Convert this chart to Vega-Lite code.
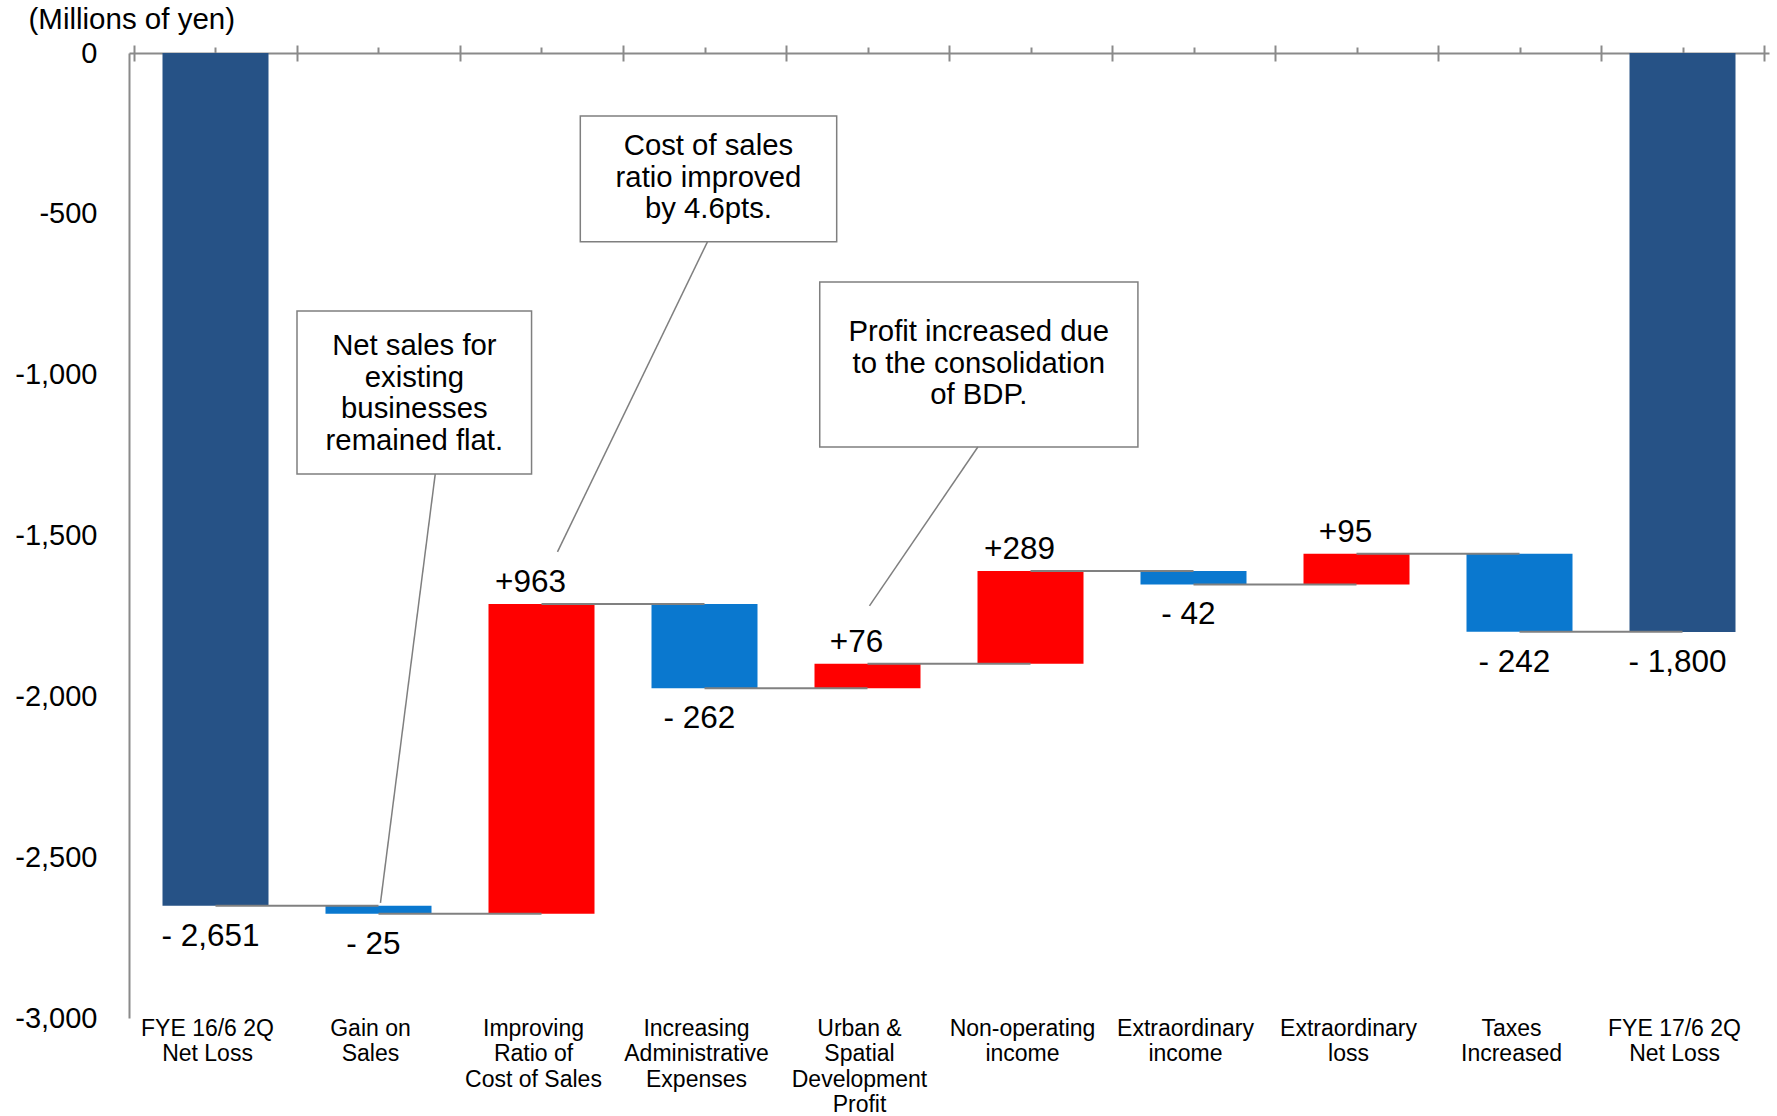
{
  "$schema": "https://vega.github.io/schema/vega-lite/v6.json",
  "width": 1640,
  "height": 965,
  "autosize": {"type": "none"},
  "padding": {"left": 129, "top": 53, "right": 8, "bottom": 98},
  "background": "white",
  "config": {
    "view": {"stroke": null},
    "font": "Liberation Sans",
    "text": {"font": "Liberation Sans", "color": "#000000"},
    "axis": {"labelFont": "Liberation Sans", "titleFont": "Liberation Sans"}
  },
  "datasets": {
    "steps": [
      {"pos": 0, "step": "FYE 16/6 2Q\nNet Loss", "start": 0, "end": -2651, "kind": "total", "label": "- 2,651"},
      {"pos": 1, "step": "Gain on\nSales", "start": -2651, "end": -2676, "kind": "decrease", "label": "- 25"},
      {"pos": 2, "step": "Improving\nRatio of\nCost of Sales", "start": -2676, "end": -1713, "kind": "increase", "label": "+963"},
      {"pos": 3, "step": "Increasing\nAdministrative\nExpenses", "start": -1713, "end": -1975, "kind": "decrease", "label": "- 262"},
      {"pos": 4, "step": "Urban &\nSpatial\nDevelopment\nProfit", "start": -1975, "end": -1899, "kind": "increase", "label": "+76"},
      {"pos": 5, "step": "Non-operating\nincome", "start": -1899, "end": -1610, "kind": "increase", "label": "+289"},
      {"pos": 6, "step": "Extraordinary\nincome", "start": -1610, "end": -1652, "kind": "decrease", "label": "- 42"},
      {"pos": 7, "step": "Extraordinary\nloss", "start": -1652, "end": -1557, "kind": "increase", "label": "+95"},
      {"pos": 8, "step": "Taxes\nIncreased", "start": -1557, "end": -1799, "kind": "decrease", "label": "- 242"},
      {"pos": 9, "step": "FYE 17/6 2Q\nNet Loss", "start": 0, "end": -1800, "kind": "total", "label": "- 1,800"}
    ],
    "links": [
      {"from": 0, "to": 1, "level": -2651},
      {"from": 1, "to": 2, "level": -2676},
      {"from": 2, "to": 3, "level": -1713},
      {"from": 3, "to": 4, "level": -1975},
      {"from": 4, "to": 5, "level": -1899},
      {"from": 5, "to": 6, "level": -1610},
      {"from": 6, "to": 7, "level": -1652},
      {"from": 7, "to": 8, "level": -1557},
      {"from": 8, "to": 9, "level": -1799}
    ],
    "notes": [
      {"note": "Net sales for\nexisting\nbusinesses\nremained flat.", "box_x1": 0.5, "box_x2": 1.939, "box_y1": -802, "box_y2": -1309, "text_x": 1.22, "text_y": -939, "lead_x1": 1.348, "lead_y1": -1309, "lead_x2": 1.012, "lead_y2": -2642},
      {"note": "Cost of sales\nratio improved\nby 4.6pts.", "box_x1": 2.238, "box_x2": 3.811, "box_y1": -196, "box_y2": -587, "text_x": 3.024, "text_y": -318, "lead_x1": 3.018, "lead_y1": -587, "lead_x2": 2.098, "lead_y2": -1551},
      {"note": "Profit increased due\nto the consolidation\nof BDP.", "box_x1": 3.707, "box_x2": 5.659, "box_y1": -712, "box_y2": -1225, "text_x": 4.683, "text_y": -896, "lead_x1": 4.677, "lead_y1": -1225, "lead_x2": 4.012, "lead_y2": -1719}
    ]
  },
  "layer": [
    {
      "data": {"name": "steps"},
      "mark": {"type": "bar", "size": 106, "orient": "vertical"},
      "encoding": {
        "x": {
          "field": "pos", "type": "quantitative",
          "scale": {"domain": [-0.5, 9.5], "nice": false, "zero": false},
          "axis": {
            "orient": "top", "values": [0, 1, 2, 3, 4, 5, 6, 7, 8, 9],
            "labels": false, "grid": false, "title": null,
            "domain": true, "domainColor": "#8a8a8a", "domainWidth": 2,
            "ticks": true, "tickColor": "#8a8a8a", "tickWidth": 2, "tickSize": 6
          }
        },
        "y": {
          "field": "start", "type": "quantitative",
          "scale": {"domain": [-3000, 0], "nice": false, "zero": false},
          "axis": {
            "orient": "left",
            "values": [0, -500, -1000, -1500, -2000, -2500, -3000],
            "labelExpr": "(datum.value < 0 ? '-' : '') + format(abs(datum.value), ',')",
            "grid": false, "ticks": false,
            "domain": true, "domainColor": "#8a8a8a", "domainWidth": 2,
            "labelFontSize": 29, "labelColor": "#000000", "labelPadding": 32,
            "title": "(Millions of yen)",
            "titleAngle": 0, "titleAlign": "left", "titleBaseline": "middle",
            "titleX": -101, "titleY": -34,
            "titleFontSize": 29.5, "titleFontWeight": "normal", "titleColor": "#000000"
          }
        },
        "y2": {"field": "end"},
        "color": {
          "field": "kind", "type": "nominal",
          "scale": {"domain": ["total", "decrease", "increase"], "range": ["#265286", "#0a78cf", "#ff0000"]},
          "legend": null
        }
      }
    },
    {
      "data": {"name": "links"},
      "mark": {"type": "rule", "stroke": "#808080", "strokeWidth": 2},
      "encoding": {
        "x": {
          "field": "from", "type": "quantitative",
          "scale": {"domain": [-0.5, 9.5], "nice": false, "zero": false},
          "axis": {
            "orient": "top", "offset": -8,
            "values": [-0.5, 0.5, 1.5, 2.5, 3.5, 4.5, 5.5, 6.5, 7.5, 8.5, 9.5],
            "labels": false, "grid": false, "title": null, "domain": false,
            "ticks": true, "tickColor": "#8a8a8a", "tickWidth": 2, "tickSize": 16
          }
        },
        "x2": {"field": "to"},
        "y": {"field": "level", "type": "quantitative", "scale": {"domain": [-3000, 0], "nice": false, "zero": false}, "axis": null}
      }
    },
    {
      "data": {"name": "notes"},
      "mark": {"type": "rect", "fill": "white", "stroke": "#7f7f7f", "strokeWidth": 1.5},
      "encoding": {
        "x": {"field": "box_x1", "type": "quantitative", "scale": {"domain": [-0.5, 9.5], "nice": false, "zero": false}, "axis": null},
        "x2": {"field": "box_x2"},
        "y": {"field": "box_y1", "type": "quantitative", "scale": {"domain": [-3000, 0], "nice": false, "zero": false}, "axis": null},
        "y2": {"field": "box_y2"}
      }
    },
    {
      "data": {"name": "notes"},
      "mark": {"type": "rule", "stroke": "#7f7f7f", "strokeWidth": 1.5},
      "encoding": {
        "x": {"field": "lead_x1", "type": "quantitative", "scale": {"domain": [-0.5, 9.5], "nice": false, "zero": false}, "axis": null},
        "x2": {"field": "lead_x2"},
        "y": {"field": "lead_y1", "type": "quantitative", "scale": {"domain": [-3000, 0], "nice": false, "zero": false}, "axis": null},
        "y2": {"field": "lead_y2"}
      }
    },
    {
      "data": {"name": "notes"},
      "mark": {"type": "text", "fontSize": 29.3, "lineBreak": "\n", "lineHeight": 31.5, "align": "center", "baseline": "alphabetic"},
      "encoding": {
        "x": {"field": "text_x", "type": "quantitative", "scale": {"domain": [-0.5, 9.5], "nice": false, "zero": false}, "axis": null},
        "y": {"field": "text_y", "type": "quantitative", "scale": {"domain": [-3000, 0], "nice": false, "zero": false}, "axis": null},
        "text": {"field": "note"}
      }
    },
    {
      "data": {"name": "steps"},
      "transform": [{"filter": "datum.kind === 'increase'"}],
      "mark": {"type": "text", "fontSize": 31.5, "align": "center", "baseline": "middle", "dy": -21, "dx": -11},
      "encoding": {
        "x": {"field": "pos", "type": "quantitative", "scale": {"domain": [-0.5, 9.5], "nice": false, "zero": false}, "axis": null},
        "y": {"field": "end", "type": "quantitative", "scale": {"domain": [-3000, 0], "nice": false, "zero": false}, "axis": null},
        "text": {"field": "label"}
      }
    },
    {
      "data": {"name": "steps"},
      "transform": [{"filter": "datum.kind !== 'increase'"}],
      "mark": {"type": "text", "fontSize": 31.5, "align": "center", "baseline": "middle", "dy": 31, "dx": -5},
      "encoding": {
        "x": {"field": "pos", "type": "quantitative", "scale": {"domain": [-0.5, 9.5], "nice": false, "zero": false}, "axis": null},
        "y": {"field": "end", "type": "quantitative", "scale": {"domain": [-3000, 0], "nice": false, "zero": false}, "axis": null},
        "text": {"field": "label"}
      }
    },
    {
      "data": {"name": "steps"},
      "mark": {"type": "text", "fontSize": 23, "lineBreak": "\n", "lineHeight": 25.3, "align": "center", "baseline": "top", "dy": 0, "dx": -8},
      "encoding": {
        "x": {"field": "pos", "type": "quantitative", "scale": {"domain": [-0.5, 9.5], "nice": false, "zero": false}, "axis": null},
        "y": {"datum": -3000, "type": "quantitative", "scale": {"domain": [-3000, 0], "nice": false, "zero": false}, "axis": null},
        "text": {"field": "step"}
      }
    }
  ],
  "resolve": {"axis": {"x": "independent", "y": "independent"}}
}
